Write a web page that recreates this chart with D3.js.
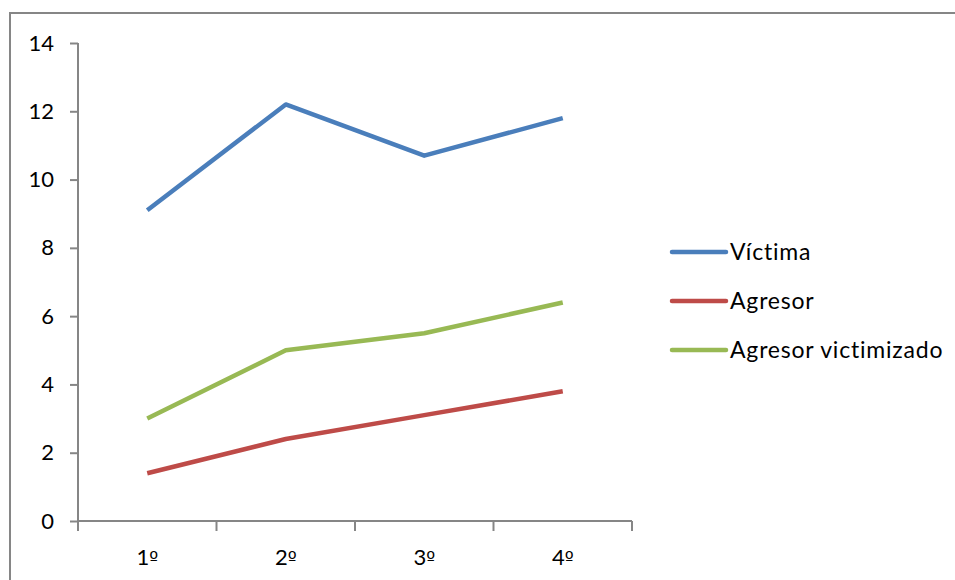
<!DOCTYPE html>
<html>
<head>
<meta charset="utf-8">
<script src="https://cdn.jsdelivr.net/npm/d3@7"></script>
<style>
  html, body { margin: 0; padding: 0; background: #fff; }
  svg { display: block; }
  text { font-family: Lato, "Open Sans", sans-serif; fill: #000; }
</style>
</head>
<body>
<svg id="chart" width="955" height="580"></svg>
<script>
// Course levels on the x axis
const categories = ["1º", "2º", "3º", "4º"];
// Percentages by role and course
const victima = [9.1, 12.2, 10.7, 11.8];
const agresor = [1.4, 2.4, 3.1, 3.8];
const agresorVictimizado = [3.0, 5.0, 5.5, 6.4];
const yTicks = [0, 2, 4, 6, 8, 10, 12, 14];
const seriesNames = ["Víctima", "Agresor", "Agresor victimizado"];

const series = [
  { name: seriesNames[0], values: victima, color: "#4a7ebb" },
  { name: seriesNames[1], values: agresor, color: "#be4b48" },
  { name: seriesNames[2], values: agresorVictimizado, color: "#98b954" }
];

const svg = d3.select("#chart");

// outer chart frame (runs past the right and bottom edges)
svg.append("rect")
  .attr("x", 10).attr("y", 13)
  .attr("width", 1000).attr("height", 700)
  .attr("fill", "none")
  .attr("stroke", "#868686")
  .attr("stroke-width", 2);

const plot = { left: 78, right: 632, top: 43, bottom: 521 };

const x = d3.scaleBand().domain(categories).range([plot.left, plot.right]);
const y = d3.scaleLinear().domain([0, 14]).range([plot.bottom, plot.top]);

const axisColor = "#868686";

// y axis
const yAxis = svg.append("g")
  .attr("transform", `translate(${plot.left},0)`)
  .call(d3.axisLeft(y).tickValues(yTicks).tickSize(8).tickPadding(16).tickFormat(d3.format("d")));
yAxis.attr("font-size", null).attr("font-family", null);
yAxis.select(".domain").attr("stroke", axisColor).attr("stroke-width", 2).attr("d", `M0,${plot.top}V${plot.bottom}`);
yAxis.selectAll(".tick line").attr("stroke", axisColor).attr("stroke-width", 2);
yAxis.selectAll(".tick text")
  .style("font-size", "22px")
  .style("font-family", "Lato, sans-serif")
  .attr("fill", "#000");

// x axis with ticks on the band boundaries
const xAxis = svg.append("g")
  .attr("transform", `translate(0,${plot.bottom})`);
xAxis.append("line")
  .attr("x1", plot.left).attr("x2", plot.right)
  .attr("stroke", axisColor).attr("stroke-width", 2);
const bounds = categories.map(c => x(c)).concat([x(categories[categories.length - 1]) + x.bandwidth()]);
xAxis.selectAll("line.tick")
  .data(bounds)
  .join("line")
  .attr("class", "tick")
  .attr("x1", d => d).attr("x2", d => d)
  .attr("y1", 0).attr("y2", 10)
  .attr("stroke", axisColor).attr("stroke-width", 2);
const xLabels = xAxis.selectAll("text")
  .data(categories)
  .join("text")
  .attr("x", d => x(d) + x.bandwidth() / 2)
  .attr("y", 44)
  .attr("text-anchor", "middle")
  .style("font-size", "22px");
// numeral in Lato, ordinal sign in a face that draws it underlined
xLabels.append("tspan").text(d => d.slice(0, -1));
xLabels.append("tspan")
  .style("font-family", "'DejaVu Sans', sans-serif")
  .style("font-size", "19px")
  .text(d => d.slice(-1));

// series lines
const line = d3.line()
  .x((d, i) => x(categories[i]) + x.bandwidth() / 2)
  .y(d => y(d));

svg.append("g").selectAll("path")
  .data(series)
  .join("path")
  .attr("d", d => line(d.values))
  .attr("fill", "none")
  .attr("stroke", d => d.color)
  .attr("stroke-width", 4.5)
  .attr("stroke-linejoin", "round")
  .attr("stroke-linecap", "butt");

// legend
const legend = svg.append("g").attr("transform", "translate(672,252)");
const rows = legend.selectAll("g")
  .data(series)
  .join("g")
  .attr("transform", (d, i) => `translate(0,${i * 49})`);
rows.append("line")
  .attr("x1", 0).attr("x2", 54)
  .attr("stroke", d => d.color)
  .attr("stroke-width", 4.5)
  .attr("stroke-linecap", "round");
rows.append("text")
  .attr("x", 58)
  .attr("y", 8)
  .style("font-size", "23px")
  .attr("letter-spacing", 0.8)
  .text(d => d.name);
</script>
</body>
</html>
